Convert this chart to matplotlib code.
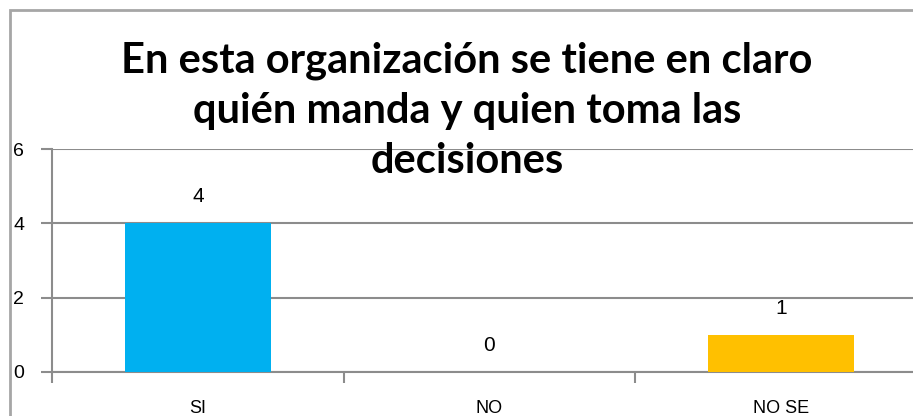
import matplotlib
matplotlib.use("Agg")
import matplotlib.pyplot as plt
from matplotlib.patches import Rectangle

categories = ["SI", "NO", "NO SE"]
values = [4, 0, 1]
bar_colors = ["#00B0F0", "#FF0000", "#FFC000"]
y_ticks = [0, 2, 4, 6]
title = "En esta organización se tiene en claro\nquién manda y quien toma las\ndecisiones"

W, H = 913, 416
fig = plt.figure(figsize=(W / 100, H / 100), dpi=100)
fig.patch.set_facecolor("white")

grey = "#8C8C8C"
# outer chart border (cropped on right/bottom)
fig.patches.append(Rectangle((10 / W, -0.5), 2.0, 1 - 10 / H + 0.5,
                             transform=fig.transFigure, fill=False,
                             edgecolor="#A6A6A6", linewidth=2, zorder=0))

left_px, right_px, top_px, bot_px = 52, 927, 149, 372
ax = fig.add_axes([left_px / W, 1 - bot_px / H, (right_px - left_px) / W, (bot_px - top_px) / H])
ax.set_facecolor("none")

x = list(range(len(categories)))
ax.bar(x, values, width=0.5, color=bar_colors, zorder=3)
ax.set_xlim(-0.5, len(categories) - 0.5)
ax.set_ylim(0, 6)

for xi, v in zip(x, values):
    ax.annotate(str(v), (xi, v), xytext=(0, 19), textcoords="offset points",
                ha="center", va="center",
                fontsize=15, family="Liberation Sans", color="black")

ax.set_yticks(y_ticks)
ax.set_yticklabels([str(t) for t in y_ticks], fontsize=14, family="Liberation Sans")
ax.yaxis.grid(True, color=grey, linewidth=1.5, zorder=0)
ax.set_axisbelow(True)

ax.set_xticks(x)
ax.set_xticklabels(categories, fontsize=13, family="Liberation Sans")
ax.tick_params(axis="x", which="major", length=0, pad=20)
ax.set_xticks([i - 0.5 for i in range(len(categories) + 1)], minor=True)
ax.tick_params(axis="x", which="minor", length=8, width=1.5, color=grey, direction="out")
ax.tick_params(axis="y", length=8, width=1.5, color=grey, direction="out", pad=12)

for s in ["top", "right"]:
    ax.spines[s].set_visible(False)
for s in ["left", "bottom"]:
    ax.spines[s].set_color(grey)
    ax.spines[s].set_linewidth(1.5)

fig.text(467 / W, 1 - 41 / H, title, ha="center", va="top", fontsize=30,
         fontweight="bold", family="Lato", linespacing=1.4, color="black")

fig.savefig("out.png", dpi=100)
